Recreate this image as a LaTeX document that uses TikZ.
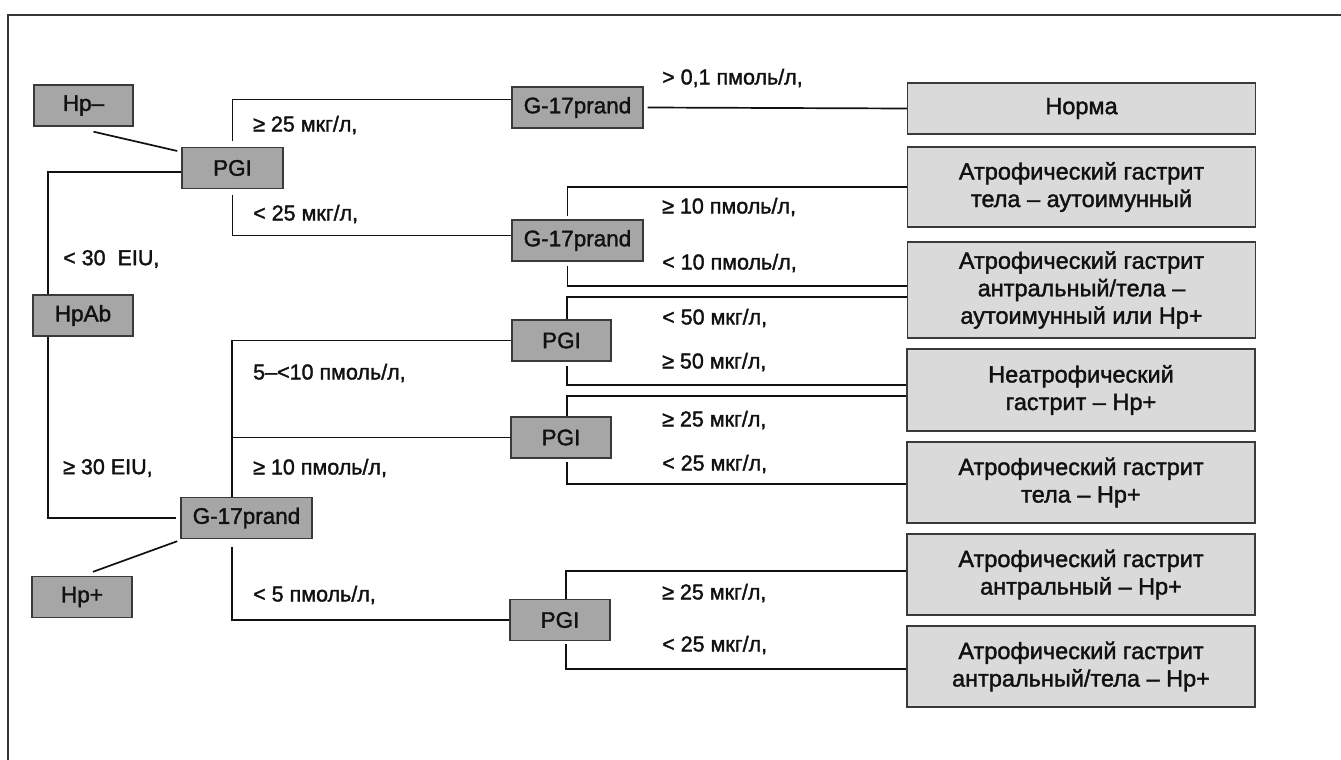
\documentclass[tikz,border=0pt]{standalone}
\usepackage{fontspec}
\setmainfont{Liberation Sans}
\newfontfamily\heavy[FakeBold=1.6]{Liberation Sans}
\usetikzlibrary{calc}
\definecolor{decfill}{HTML}{A6A6A6}
\definecolor{resfill}{HTML}{DADADA}
\definecolor{edge}{HTML}{3A3A3A}
\definecolor{ink}{HTML}{111111}
\tikzset{
  dec/.style={draw=edge, line width=1.4pt, fill=decfill, inner sep=0pt, text=ink,
    minimum height=41pt, font=\heavy\fontsize{22.5}{26}\selectfont},
  res/.style={draw=edge, line width=1.4pt, fill=resfill, inner sep=0pt, text=ink,
    minimum width=348pt, align=center, font=\heavy\fontsize{23.5}{27.5}\selectfont},
  lab/.style={anchor=west, inner sep=0pt, text=ink, font=\heavy\fontsize{21.5}{24}\selectfont},
  con/.style={draw=ink, line width=1.7pt},
  frame/.style={draw=ink!85, line width=1.8pt}
}
\begin{document}
\begin{tikzpicture}[x=1pt,y=-1pt]
\useasboundingbox (0,0) rectangle (1341,760);
\fill[white] (0,0) rectangle (1341,760);
% open frame
\coordinate (ftl) at (8,15);
\coordinate (ftr) at (1341,15);
\coordinate (fbl) at (8,760);
\draw[frame] (ftr) -- (ftl) -- (fbl);

% decision nodes
\node[dec, minimum width=99pt]  (hpm)  at (83.5,105.5) {Hp–};
\node[dec, minimum width=101pt] (pgi1) at (232.5,168) {PGI};
\node[dec, minimum width=100pt] (hpab) at (83,315.5) {HpAb};
\node[dec, minimum width=131pt] (g17c) at (246.5,518) {G-17prand};
\node[dec, minimum width=100pt] (hpp)  at (82,597) {Hp+};
\node[dec, minimum width=131pt] (g17a) at (577.5,107.5) {G-17prand};
\node[dec, minimum width=131pt] (g17b) at (577.5,240.5) {G-17prand};
\node[dec, minimum width=99pt]  (pgia) at (561.5,340.5) {PGI};
\node[dec, minimum width=100pt] (pgib) at (561,437.5) {PGI};
\node[dec, minimum width=100pt] (pgic) at (560,620) {PGI};

% result nodes
\node[res, minimum height=51pt] (r1) at (1081.5,108.5) {Норма};
\node[res, minimum height=80pt] (r2) at (1081.5,187) {Атрофический гастрит\\тела – аутоимунный};
\node[res, minimum height=96pt] (r3) at (1081.5,290) {Атрофический гастрит\\антральный/тела –\\аутоимунный или Hp+};
\node[res, minimum height=82pt] (r4) at (1081,390) {Неатрофический\\гастрит – Hp+};
\node[res, minimum height=81pt] (r5) at (1081,482.5) {Атрофический гастрит\\тела – Hp+};
\node[res, minimum height=81pt] (r6) at (1081,574.5) {Атрофический гастрит\\антральный – Hp+};
\node[res, minimum height=81pt] (r7) at (1081,666.5) {Атрофический гастрит\\антральный/тела – Hp+};

% left-hand connectors
\draw[con] ([xshift=10pt,yshift=-5pt]hpm.south) -- ([xshift=-4pt,yshift=17pt]pgi1.west);
\draw[con] ([yshift=-4pt]pgi1.west) -| ([xshift=-35pt]hpab.north);
\draw[con] ([xshift=-35pt]hpab.south) |- ([xshift=-4pt]g17c.west);
\draw[con] ([xshift=-3pt,yshift=-2pt]g17c.south west) -- ([xshift=11pt,yshift=4pt]hpp.north);

% PGI (top) branches
\draw[con] ([yshift=6pt]pgi1.north) |- ([yshift=8pt]g17a.west);
\draw[con] ([yshift=-6pt]pgi1.south) |- ([yshift=5pt]g17b.west);

% G-17prand (bottom left) branches
\draw[con] ([xshift=-14.5pt]g17c.north) |- (pgia.west);
\draw[con] ([xshift=-14.5pt]g17c.north) |- (pgib.west);
\draw[con] ([xshift=-14.5pt,yshift=-8pt]g17c.south) |- (pgic.west);

% right-hand connectors
\draw[con] ([xshift=4pt]g17a.east) -- (r1.west);
\draw[con] ([xshift=-10pt,yshift=3pt]g17b.north) |- (r2.west);
\draw[con] ([xshift=-10pt,yshift=-4pt]g17b.south) |- ([yshift=4pt]r3.west);
\draw[con] ([xshift=5.5pt]pgia.north) |- ([yshift=-7pt]r3.west);
\draw[con] ([xshift=5.5pt,yshift=-4pt]pgia.south) |- ([yshift=5pt]r4.west);
\draw[con] ([xshift=6pt]pgib.north) |- ([yshift=-6pt]r4.west);
\draw[con] ([xshift=6pt,yshift=-3pt]pgib.south) |- ([yshift=-1.5pt]r5.west);
\draw[con] ([xshift=6pt]pgic.north) |- ([yshift=3.5pt]r6.west);
\draw[con] ([xshift=6pt,yshift=-3pt]pgic.south) |- ([yshift=-2.5pt]r7.west);

% labels
\node[lab] (l1)  at (253,125) {≥ 25 мкг/л,};
\node[lab] (l2)  at (253,214) {< 25 мкг/л,};
\node[lab] (l3)  at (63,259)  {< 30\ \ EIU,};
\node[lab] (l4)  at (63,468)  {≥ 30 EIU,};
\node[lab] (l5)  at (253,373) {5–<10 пмоль/л,};
\node[lab] (l6)  at (253,468) {≥ 10 пмоль/л,};
\node[lab] (l7)  at (253,595) {< 5 пмоль/л,};
\node[lab] (l8)  at (662,78)  {> 0,1 пмоль/л,};
\node[lab] (l9)  at (662,207) {≥ 10 пмоль/л,};
\node[lab] (l10) at (662,263) {< 10 пмоль/л,};
\node[lab] (l11) at (662,318) {< 50 мкг/л,};
\node[lab] (l12) at (662,362) {≥ 50 мкг/л,};
\node[lab] (l13) at (662,420) {≥ 25 мкг/л,};
\node[lab] (l14) at (662,464) {< 25 мкг/л,};
\node[lab] (l15) at (662,593) {≥ 25 мкг/л,};
\node[lab] (l16) at (662,645) {< 25 мкг/л,};
\end{tikzpicture}
\end{document}
